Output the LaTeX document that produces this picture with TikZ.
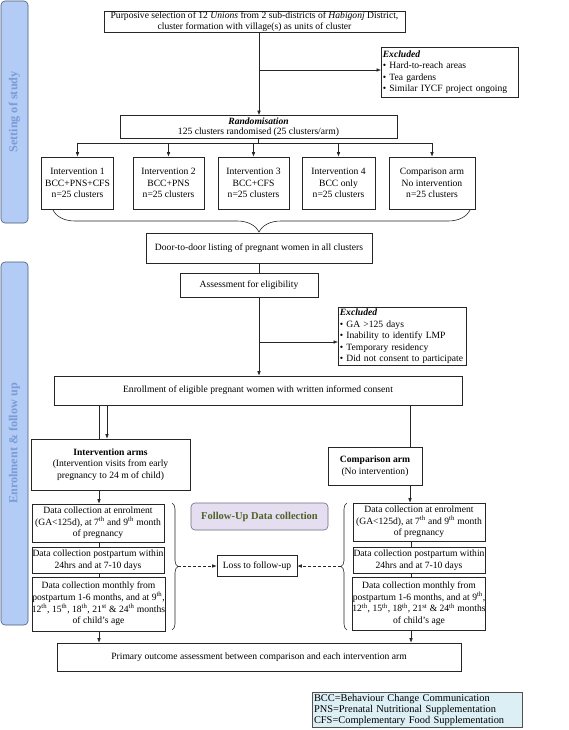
\documentclass[tikz,border=0pt]{standalone}
\usepackage{fontspec}
\setmainfont{Liberation Serif}
\usetikzlibrary{arrows.meta,decorations.pathreplacing}
\definecolor{sidefill}{HTML}{B3CCF5}
\definecolor{sidedraw}{HTML}{4A5878}
\definecolor{sidetext}{HTML}{7A9BD8}
\definecolor{fufill}{HTML}{E5DEF0}
\definecolor{fudraw}{HTML}{6E6A80}
\definecolor{futext}{HTML}{4F6228}
\definecolor{legfill}{HTML}{DCEFF4}
\definecolor{boxdraw}{HTML}{262626}
\begin{document}
\begin{tikzpicture}[x=1pt,y=-1pt,
  font=\fontsize{9.6}{11.6}\selectfont,
  box/.style={draw=boxdraw, line width=0.6pt, inner sep=0pt, align=center, fill=white},
  exbox/.style={draw=boxdraw, line width=0.6pt, inner sep=1.5pt, align=left, fill=white, anchor=north west},
  side/.style={draw=sidedraw, fill=sidefill, line width=0.6pt, rounded corners=4pt, rotate=90,
    text=sidetext, font=\fontsize{12.2}{14}\selectfont\bfseries, inner sep=0pt},
  ln/.style={line width=0.6pt, draw=boxdraw},
  arr/.style={ln, -{Latex[length=4.5pt,width=3.6pt]}},
  darr/.style={arr, dash pattern=on 3pt off 2pt},
]
\useasboundingbox (0,0) rectangle (568,730);

% sidebars
\node[side, minimum width=222, minimum height=27] (s1) at (14.5,112) {Setting of study};
\node[side, minimum width=363, minimum height=27] (s2) at (14.5,443.5) {Enrolment \& follow up};

% column coordinates
\coordinate (xm) at (259,0);
\coordinate (xl) at (99,0);
\coordinate (xl2) at (107,0);
\coordinate (xr) at (410,0);

% top part
\node[box, minimum width=301, minimum height=21] (top) at (254.5,21.5)
  {Purposive selection of 12 \textit{Unions} from 2 sub-districts of \textit{Habigonj} District,\\cluster formation with village(s) as units of cluster};
\node[exbox, minimum width=137, minimum height=50, text width=134] (ex1) at (381,47)
  {\textbf{\textit{Excluded}}\\\textbullet\ Hard-to-reach areas\\\textbullet\ Tea gardens\\\textbullet\ Similar IYCF project ongoing};
\node[box, minimum width=277, minimum height=23, inner ysep=1pt, font=\fontsize{9.6}{10.4}\selectfont] (rand) at (258.5,127)
  {\textbf{\textit{Randomisation}}\\125 clusters randomised (25 clusters/arm)};

\node[box, minimum width=72, minimum height=52] (i1) at (77.5,183) {Intervention 1\\BCC+PNS+CFS\\n=25 clusters};
\node[box, minimum width=71, minimum height=52] (i2) at (168.5,183) {Intervention 2\\BCC+PNS\\n=25 clusters};
\node[box, minimum width=71, minimum height=52] (i3) at (253.5,183) {Intervention 3\\BCC+CFS\\n=25 clusters};
\node[box, minimum width=73, minimum height=52] (i4) at (338.5,183) {Intervention 4\\BCC only\\n=25 clusters};
\node[box, minimum width=86, minimum height=52] (i5) at (432,183) {Comparison arm\\No intervention\\n=25 clusters};

\node[box, minimum width=226, minimum height=30] (door) at (259,248) {Door-to-door listing of pregnant women in all clusters};
\node[box, minimum width=138, minimum height=24] (assess) at (249,285) {Assessment for eligibility};
\node[exbox, minimum width=128, minimum height=58, text width=125] (ex2) at (338,307)
  {\textbf{\textit{Excluded}}\\\textbullet\ GA >125 days\\\textbullet\ Inability to identify LMP\\\textbullet\ Temporary residency\\\textbullet\ Did not consent to participate};
\node[box, minimum width=408, minimum height=29] (enroll) at (258,390.5) {Enrollment of eligible pregnant women with written informed consent};

\node[box, minimum width=159, minimum height=51] (intarms) at (110.5,464.5)
  {\textbf{Intervention arms}\\(Intervention visits from early\\pregnancy to 24 m of child)};
\node[box, minimum width=94, minimum height=38] (comparm) at (375,466)
  {\textbf{Comparison arm}\\(No intervention)};

\node[box, minimum width=132, minimum height=38] (l1) at (98,523)
  {Data collection at enrolment\\(GA<125d), at 7\textsuperscript{th} and 9\textsuperscript{th} month\\of pregnancy};
\node[box, minimum width=132, minimum height=26] (l2) at (98,560)
  {Data collection postpartum within\\24hrs and at 7-10 days};
\node[box, minimum width=133, minimum height=54] (l3) at (98.5,604)
  {Data collection monthly from\\postpartum 1-6 months, and at 9\textsuperscript{th},\\12\textsuperscript{th}, 15\textsuperscript{th}, 18\textsuperscript{th}, 21\textsuperscript{st} \& 24\textsuperscript{th} months\\of child’s age};
\node[box, minimum width=132, minimum height=38] (r1) at (419,522)
  {Data collection at enrolment\\(GA<125d), at 7\textsuperscript{th} and 9\textsuperscript{th} month\\of pregnancy};
\node[box, minimum width=132, minimum height=26] (r2) at (419,560)
  {Data collection postpartum within\\24hrs and at 7-10 days};
\node[box, minimum width=132, minimum height=53] (r3) at (419,603.5)
  {Data collection monthly from\\postpartum 1-6 months, and at 9\textsuperscript{th},\\12\textsuperscript{th}, 15\textsuperscript{th}, 18\textsuperscript{th}, 21\textsuperscript{st} \& 24\textsuperscript{th} months\\of child’s age};

\node[draw=fudraw, fill=fufill, line width=0.6pt, rounded corners=4pt, minimum width=137, minimum height=27,
  text=futext, font=\fontsize{10.5}{12}\selectfont\bfseries, inner sep=0pt] (fu) at (259.5,516.5) {Follow-Up Data collection};
\node[box, minimum width=80, minimum height=21] (loss) at (257,566) {Loss to follow-up};

\node[box, minimum width=404, minimum height=28] (prim) at (259,657)
  {Primary outcome assessment between comparison and each intervention arm};

\node[draw=boxdraw!80, fill=legfill, line width=0.6pt, minimum width=210, minimum height=34, text width=206,
  align=left, inner sep=2pt, font=\fontsize{10.4}{11}\selectfont] (leg) at (417,710)
  {BCC=Behaviour Change Communication\\PNS=Prenatal Nutritional Supplementation\\CFS=Complementary Food Supplementation};

% connectors: top
\coordinate (b1) at (259,70);
\draw[arr] (top.south -| xm) -- (rand.north -| xm);
\draw[arr] (b1) -- (b1 -| ex1.west);
\coordinate (bus) at (258.5,143);
\draw[ln] (rand.south) -- (bus);
\draw[ln] (bus -| i1.north) -- (bus -| i5.north);
\foreach \n in {i1,i2,i3,i4,i5} \draw[arr] (bus -| \n.north) -- (\n.north);

% brace under arms
\coordinate (bra) at (53,210);
\coordinate (brb) at (470,210);
\draw[ln, decorate, decoration={brace, mirror, amplitude=22pt, aspect=0.494}] (bra) -- (brb);

\draw[ln] (door.south -| xm) -- (assess.north -| xm);
\coordinate (b2) at (259,342);
\draw[arr] (assess.south -| xm) -- (enroll.north -| xm);
\draw[arr] (b2) -- (b2 -| ex2.west);

\draw[ln] (enroll.south -| xl) -- (intarms.north -| xl);
\draw[arr] (enroll.south -| xl2) -- (intarms.north -| xl2);
\draw[ln] (enroll.south -| xr) -- (comparm.north -| xr);

\draw[arr] (intarms.south -| xl) -- (l1.north -| xl);
\draw[ln] (l1.south -| xl) -- (l2.north -| xl);
\draw[ln] (l2.south -| xl) -- (l3.north -| xl);
\draw[arr] (l3.south -| xl) -- (prim.north -| xl);

\coordinate (xr2) at (411,0);
\draw[arr] (comparm.south -| xr) -- (r1.north -| xr);
\draw[ln] (r1.south -| xr2) -- (r2.north -| xr2);
\draw[ln] (r2.south -| xr2) -- (r3.north -| xr2);
\draw[arr] (r3.south -| xr2) -- (prim.north -| xr2);

% side braces
\coordinate (lba) at (172,503);
\coordinate (lbb) at (172,630);
\coordinate (rba) at (347,630);
\coordinate (rbb) at (347,503);
\draw[ln, decorate, decoration={brace, amplitude=6pt}] (lba) -- (lbb);
\draw[ln, decorate, decoration={brace, amplitude=6pt}] (rba) -- (rbb);
\coordinate (lt) at (178,566);
\coordinate (rt) at (341,566);
\draw[darr] (lt) -- (loss.west);
\draw[darr] (rt) -- (loss.east);
\end{tikzpicture}
\end{document}
